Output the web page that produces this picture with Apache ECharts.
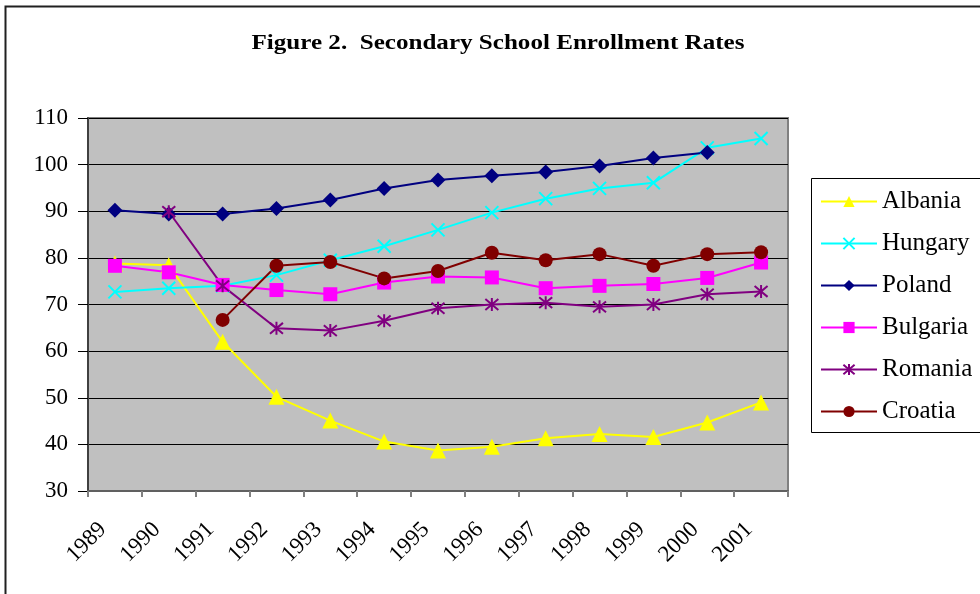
<!DOCTYPE html>
<html>
<head>
<meta charset="UTF-8">
<title>Figure 2. Secondary School Enrollment Rates</title>
<script src="https://cdn.jsdelivr.net/npm/echarts@6/dist/echarts.min.js"></script>
<style>
  html, body { margin: 0; padding: 0; background: #fff; }
  #main { width: 980px; height: 594px; }
</style>
</head>
<body>
<div id="main"></div>
<script>
  // categories and values
  var years = ['1989', '1990', '1991', '1992', '1993', '1994', '1995', '1996', '1997', '1998', '1999', '2000', '2001'];
  var albania  = [78.8, 78.4, 62.0, 50.2, 45.1, 40.6, 38.7, 39.5, 41.3, 42.2, 41.6, 44.7, 49.0];
  var hungary  = [72.7, 73.5, 74.0, 76.3, 79.5, 82.5, 86.0, 89.7, 92.7, 94.9, 96.1, 103.6, 105.6];
  var poland   = [90.2, 89.4, 89.4, 90.6, 92.4, 94.9, 96.7, 97.6, 98.4, 99.7, 101.4, 102.6, null];
  var bulgaria = [78.3, 76.9, 74.2, 73.1, 72.2, 74.7, 76.0, 75.8, 73.5, 74.0, 74.4, 75.7, 79.0];
  var romania  = [null, 89.9, 74.0, 64.9, 64.4, 66.5, 69.2, 70.0, 70.4, 69.5, 70.0, 72.2, 72.8];
  var croatia  = [null, null, 66.7, 78.3, 79.1, 75.6, 77.2, 81.1, 79.5, 80.8, 78.3, 80.8, 81.2];
  var yTicks = { min: 30, max: 110, step: 10 };

  var serif = '"Liberation Serif", "DejaVu Serif", serif';

  var myChart = echarts.init(document.getElementById('main'));

  function line(name, data, color, symbol, size, stroked) {
    return {
      name: name,
      type: 'line',
      data: data,
      symbol: symbol,
      symbolSize: size,
      showAllSymbol: true,
      connectNulls: false,
      lineStyle: { color: color, width: 2 },
      itemStyle: stroked
        ? { color: color, borderColor: color, borderWidth: 2 }
        : { color: color, borderWidth: 0 },
      emphasis: { disabled: true },
      z: 3
    };
  }

  var xMark = 'path://M0,0L10,10M10,0L0,10';
  var starMark = 'path://M0,0L10,10M10,0L0,10M5,-1L5,11';

  var option = {
    animation: false,
    backgroundColor: '#ffffff',
    graphic: [
      { // outer frame
        type: 'rect', silent: true,
        shape: { x: 5.5, y: 6.5, width: 1100, height: 800 },
        style: { fill: 'none', stroke: '#202020', lineWidth: 2 }
      },
      { // legend box
        type: 'rect', silent: true,
        shape: { x: 811.5, y: 178.5, width: 300, height: 254 },
        style: { fill: '#fff', stroke: '#000', lineWidth: 1 },
        z: -1
      },
      {
        type: 'text', silent: true,
        x: 498, y: 43,
        scaleX: 1.14,
        style: {
          text: 'Figure 2.  Secondary School Enrollment Rates',
          font: 'bold 22px ' + serif,
          fill: '#000',
          align: 'center',
          verticalAlign: 'middle'
        }
      }
    ],
    legend: {
      orient: 'vertical',
      left: 820,
      top: 189,
      padding: 0,
      itemWidth: 56,
      itemHeight: 14,
      itemGap: 17,
      textStyle: { fontFamily: serif, fontSize: 25, color: '#000', lineHeight: 25, padding: [0, 0, 0, 0] },
      data: ['Albania', 'Hungary', 'Poland', 'Bulgaria', 'Romania', 'Croatia']
    },
    grid: {
      left: 88, right: 192, top: 118, bottom: 103,
      show: true,
      backgroundColor: '#c0c0c0',
      borderColor: '#808080',
      borderWidth: 2
    },
    xAxis: {
      type: 'category',
      data: years,
      boundaryGap: true,
      axisLine: { lineStyle: { color: '#606060', width: 2 } },
      axisTick: { show: true, length: 6, lineStyle: { color: '#808080', width: 2 } },
      axisLabel: {
        interval: 0,
        rotate: 45,
        margin: 23,
        padding: [0, 17, 0, 0],
        fontFamily: serif,
        fontSize: 23,
        color: '#000'
      }
    },
    yAxis: {
      type: 'value',
      min: yTicks.min,
      max: yTicks.max,
      interval: yTicks.step,
      axisLine: { show: true, lineStyle: { color: '#404040', width: 2 } },
      axisTick: { show: true, length: 10, lineStyle: { color: '#000', width: 1 } },
      splitLine: { show: true, lineStyle: { color: '#000', width: 1 } },
      axisLabel: { margin: 20, fontFamily: serif, fontSize: 23, color: '#000' }
    },
    series: [
      line('Albania', albania, '#ffff00', 'triangle', 16, false),
      line('Hungary', hungary, '#00ffff', xMark, 13, true),
      line('Poland', poland, '#000080', 'diamond', 15, false),
      line('Bulgaria', bulgaria, '#ff00ff', 'rect', 14, false),
      line('Romania', romania, '#800080', starMark, 13, true),
      line('Croatia', croatia, '#800000', 'circle', 14, false)
    ]
  };

  myChart.setOption(option);
</script>
</body>
</html>
